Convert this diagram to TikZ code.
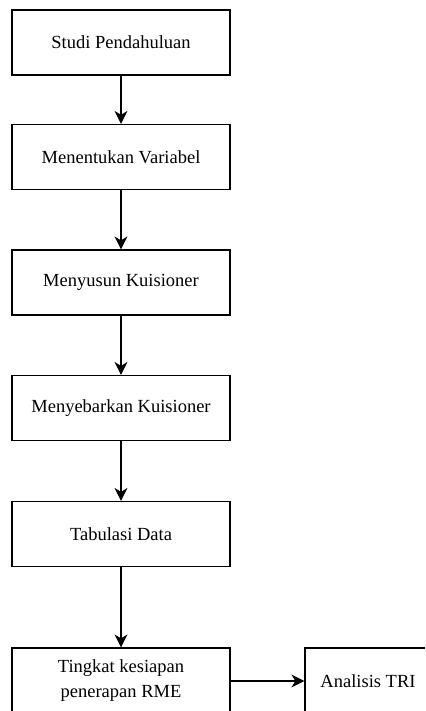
\documentclass[tikz,border=0pt]{standalone}
\usepackage{fontspec}
\setmainfont{Liberation Serif}
\usetikzlibrary{arrows.meta}
\begin{document}
\begin{tikzpicture}[x=1pt,y=1pt,
  stepbox/.style={draw=black,line width=1.2pt,minimum width=218pt,minimum height=65pt,inner sep=0pt,align=center,font=\fontsize{18.5}{25}\selectfont},
  conn/.style={line width=1.2pt,-{Stealth[length=13pt,width=13pt,inset=4pt]}}]
\useasboundingbox (0,0) rectangle (425,-711);
\fill[white] (0,0) rectangle (425,-711);
\begin{scope}
\clip (0,0) rectangle (425,-711);
\node[stepbox] (a) at (121,-42.5) {Studi Pendahuluan};
\node[stepbox] (b) at (121,-157) {Menentukan Variabel};
\node[stepbox] (c) at (121,-282.5) {Menyusun Kuisioner};
\node[stepbox] (d) at (121,-408) {Menyebarkan Kuisioner};
\node[stepbox] (e) at (121,-534) {Tabulasi Data};
\node[stepbox,minimum height=66pt] (f) at (121,-681) {Tingkat kesiapan\\penerapan RME};
\node[stepbox,minimum width=126pt,minimum height=66pt] (g) at (368,-681) {Analisis TRI};
\draw[conn] (a) -- (b);
\draw[conn] (b) -- (c);
\draw[conn] (c) -- (d);
\draw[conn] (d) -- (e);
\draw[conn] (e) -- (f);
\draw[conn] (f) -- (g);
\end{scope}
\end{tikzpicture}
\end{document}
